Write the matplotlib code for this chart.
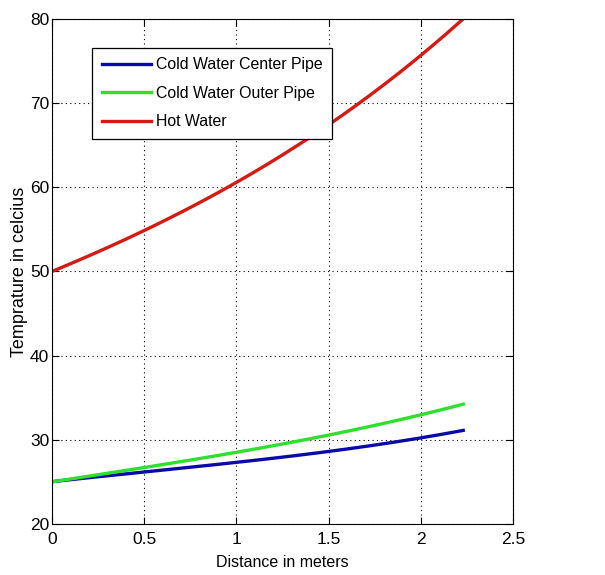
import numpy as np
import matplotlib
matplotlib.use("Agg")
import matplotlib.pyplot as plt

plt.rcParams['font.family'] = ['Liberation Sans Narrow', 'Liberation Sans', 'DejaVu Sans']

# values
dist = [0, 0.25, 0.5, 0.75, 1.0, 1.25, 1.5, 1.75, 2.0, 2.23]
hot_water = [50, 52.3, 54.9, 57.6, 60.6, 63.8, 67.4, 71.4, 75.7, 80.0]
cold_outer = [25, 25.8, 26.7, 27.6, 28.5, 29.5, 30.5, 31.7, 33.0, 34.2]
cold_center = [25, 25.6, 26.2, 26.7, 27.3, 27.9, 28.6, 29.4, 30.2, 31.1]

names = ["Cold Water Center Pipe", "Cold Water Outer Pipe", "Hot Water"]
colours = ["#0a0aa8", "#2ee02e", "#d41a12"]

fig = plt.figure(figsize=(6.05, 5.75), dpi=100)
ax = fig.add_axes([0.086, 0.089, 0.762, 0.878])

# smooth the read points a little so the curves look like the original
xs = np.linspace(dist[0], dist[-1], 200)
for ys, name, c in zip([cold_center, cold_outer, hot_water], names, colours):
    coef = np.polyfit(dist, ys, 3)
    ax.plot(xs, np.polyval(coef, xs), color=c, lw=2.4, label=name)

ax.set_xlim(0, 2.5)
ax.set_ylim(20, 80)
ax.set_xticks([0, 0.5, 1, 1.5, 2, 2.5])
ax.set_xticklabels(["0", "0.5", "1", "1.5", "2", "2.5"])
ax.set_yticks(range(20, 81, 10))
ax.grid(True, color='black', linestyle=(0, (1, 3)), linewidth=0.8)
ax.tick_params(direction='in', top=True, right=True, labelsize=12.5, length=5)
ax.tick_params(axis='x', pad=6)
ax.tick_params(axis='y', pad=2)
for s in ax.spines.values():
    s.set_linewidth(0.8)

ax.set_xlabel("Distance in meters", fontsize=11.5, labelpad=6)
ax.set_ylabel("Temprature in celcius", fontsize=13, labelpad=1)

leg = ax.legend(loc='upper left', bbox_to_anchor=(0.087, 0.943), borderaxespad=0,
                fontsize=11.4, fancybox=False, edgecolor='black', framealpha=1,
                handlelength=3.1, handletextpad=0.35, borderpad=0.6, labelspacing=0.85)
leg.get_frame().set_linewidth(0.9)

fig.savefig("out.png", dpi=100)
